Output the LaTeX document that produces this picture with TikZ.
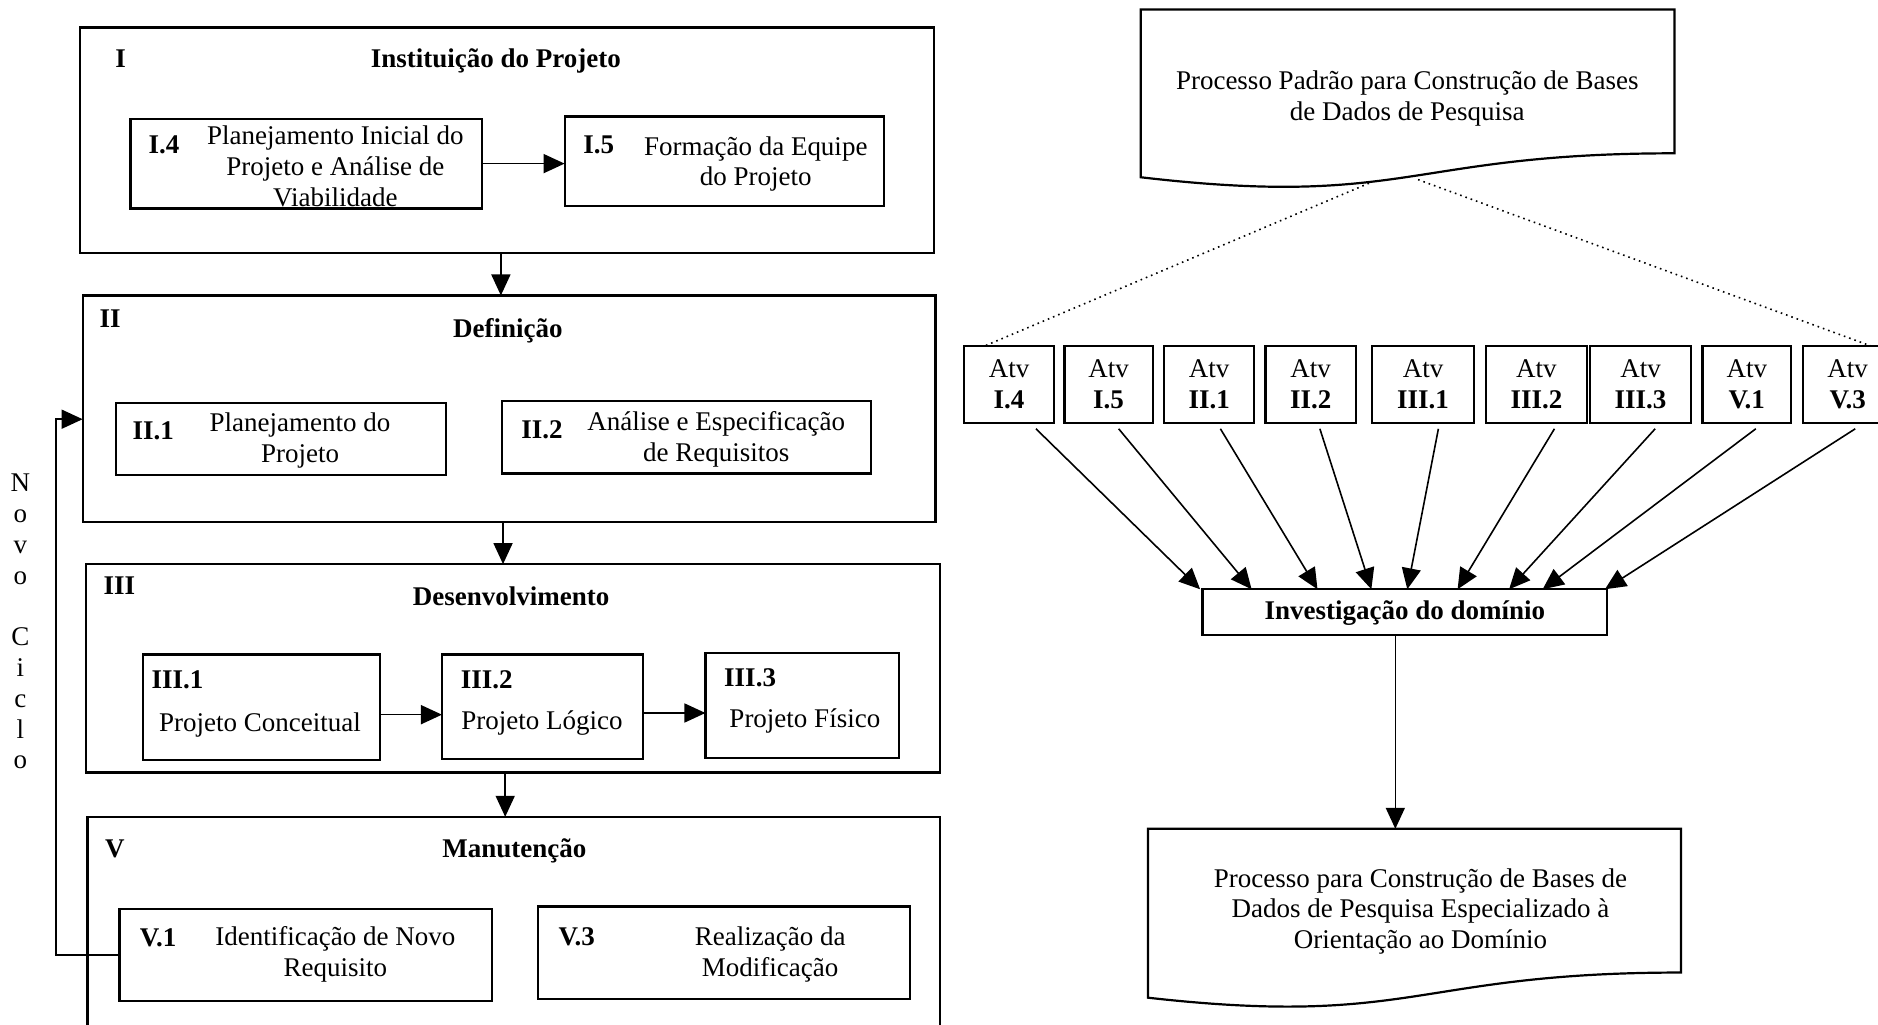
\documentclass[tikz,border=0pt]{standalone}
\usepackage{fontspec}
\setmainfont{Liberation Serif}
\usetikzlibrary{arrows.meta,calc}
\newcommand\fs{\fontsize{13.5}{15.4}\selectfont}
\newcommand\mybox[6][]{\node[boxst,#1,minimum width={(#5-#3)*0.5989pt},minimum height={(#6-#4)*0.5989pt}] (#2) at ({(#3+#5)/2},{(#4+#6)/2}) {};}
\tikzset{
  boxst/.style={draw, line width=1.1pt, inner sep=0pt, outer sep=0pt, rectangle},
  txt/.style={inner sep=0pt, align=center, font=\fs},
  lbl/.style={inner sep=0pt, font=\fs\bfseries},
  atv/.style={boxst, align=center, font=\fs},
  arr/.style={line width=0.8pt, -{Triangle[length=10.5pt,width=9.5pt]}},
  dots/.style={line width=0.8pt, dotted},
  docst/.style={line width=1.1pt},
}
\begin{document}
\begin{tikzpicture}[x=0.5989pt,y=-0.5989pt]
\useasboundingbox (0,0) rectangle (1568,855.8);
\clip (0,0) rectangle (1568,855.8);

% ---------- Phase I
\mybox{boxI}{66.5}{23}{779.7}{211}
\node[lbl] (lI) at (100.7,49) {I};
\node[lbl] (ttlI) at (414,51) {Instituição do Projeto};
\mybox{b14}{108.9}{99.2}{402.4}{174}
\node[lbl] (l14) at (137,121) {I.4};
\node[txt] (t14) at (280,139) {Planejamento Inicial do\\Projeto e Análise de\\Viabilidade};
\mybox{b15}{471.4}{97.2}{737.8}{172}
\node[lbl] (l15) at (500,121) {I.5};
\node[txt] (t15) at (631,137) {Formação da Equipe\\do Projeto};
\draw[arr] (b14.east) -- (b14.east -| b15.west);

% ---------- Phase II
\mybox{boxII}{69}{246.7}{781}{435.6}
\node[lbl] (lII) at (92,266) {II};
\node[lbl] (ttlII) at (424,276) {Definição};
\mybox{b21}{97.1}{336.6}{372.2}{396.8}
\node[lbl] (l21) at (128,360) {II.1};
\node[txt] (t21) at (250.5,368) {Planejamento do\\Projeto};
\mybox{b22}{419.2}{335}{727}{395.3}
\node[lbl] (l22) at (452.5,359) {II.2};
\node[txt] (t22) at (598,366.6) {Análise e Especificação\\de Requisitos};

% ---------- Phase III
\mybox{boxIII}{71.6}{471}{784.8}{645}
\node[lbl] (lIII) at (99.7,489) {III};
\node[lbl] (ttlIII) at (426.8,498) {Desenvolvimento};
\mybox{b31}{119.1}{546.4}{317}{634.5}
\node[lbl] (l31) at (148.3,567.4) {III.1};
\node[txt] (t31) at (217,605) {Projeto Conceitual};
\mybox{b32}{369}{546.4}{537}{633.8}
\node[lbl] (l32) at (406.5,567.4) {III.2};
\node[txt] (t32) at (452.5,603.7) {Projeto Lógico};
\mybox{b33}{589}{545}{750.6}{633}
\node[lbl] (l33) at (626.3,566) {III.3};
\node[txt] (t33) at (672,602.3) {Projeto Físico};
\coordinate (c31) at (317,596.7);
\coordinate (c32) at (537,595.3);
\draw[arr] (c31) -- (c31 -| b32.west);
\draw[arr] (c32) -- (c32 -| b33.west);

% ---------- Phase V (bottom edge falls just outside the page)
\mybox{boxV}{73}{682}{784.8}{858}
\node[lbl] (lV) at (96,708.5) {V};
\node[lbl] (ttlV) at (429.5,710) {Manutenção};
\mybox{bV1}{99.7}{758.8}{410.5}{835.6}
\node[lbl] (lV1) at (132,783) {V.1};
\node[txt] (tV1) at (280,797) {Identificação de Novo\\Requisito};
\mybox{bV3}{449}{756.9}{759.8}{834.3}
\node[lbl] (lV3) at (481.6,782) {V.3};
\node[txt] (tV3) at (643,797) {Realização da\\Modificação};

% ---------- phase arrows
\coordinate (aI) at (418.2,211);
\coordinate (aII) at (420,435.6);
\coordinate (aIII) at (421.8,645);
\draw[arr] (aI) -- (aI |- boxII.north);
\draw[arr] (aII) -- (aII |- boxIII.north);
\draw[arr] (aIII) -- (aIII |- boxV.north);

% ---------- Novo Ciclo loop
\coordinate (loopc) at (47,350);
\draw[arr] (bV1.west) -| (loopc) -- (loopc -| boxII.west);
\node[txt] (nc) at (17,519) {N\\o\\v\\o\\[15.4pt]C\\i\\c\\l\\o};

% ---------- Right: standard process document
\draw[docst] (952.5,8) -- (1398,8) -- (1398,128) .. controls (1175,128) and (1175,174) .. (952.5,148) -- cycle;
\node[txt] (doc1) at (1175,82) {Processo Padrão para Construção de Bases\\de Dados de Pesquisa};
\coordinate (d1a) at (1143,153);
\coordinate (d1b) at (1184,150);

% ---------- Atv boxes
\mybox[atv]{a14}{804.8}{289}{880.1}{353}
\mybox[atv]{a15}{888.7}{289}{962.5}{353}
\mybox[atv]{a21}{972.1}{289}{1047}{353}
\mybox[atv]{a22}{1056.6}{289}{1132}{353}
\mybox[atv]{a31}{1145.4}{289}{1230.9}{353}
\mybox[atv]{a32}{1240.7}{289}{1325}{353}
\mybox[atv]{a33}{1327.6}{289}{1411.9}{353}
\mybox[atv]{aV1}{1421.5}{289}{1495.4}{353}
\mybox[atv]{aV3}{1505.4}{289}{1580}{353}
\node[txt] (ta14) at (a14) {Atv\\\textbf{I.4}};
\node[txt] (ta15) at (a15) {Atv\\\textbf{I.5}};
\node[txt] (ta21) at (a21) {Atv\\\textbf{II.1}};
\node[txt] (ta22) at (a22) {Atv\\\textbf{II.2}};
\node[txt] (ta31) at (a31) {Atv\\\textbf{III.1}};
\node[txt] (ta32) at (a32) {Atv\\\textbf{III.2}};
\node[txt] (ta33) at (a33) {Atv\\\textbf{III.3}};
\node[txt] (taV1) at (aV1) {Atv\\\textbf{V.1}};
\node[txt] (taV3) at (1542.7,321) {Atv\\\textbf{V.3}};

\draw[dots] (d1a) -- ($(a14.north west)+(17,0)$);
\draw[dots] (d1b) -- ($(aV3.north west)+(57,0)$);

% ---------- Investigation box
\mybox{inv}{1004}{492}{1342}{530}
\node[lbl] (tinv) at (1173,512) {Investigação do domínio};

\draw[arr] ($(a14.south)+(22.5,5)$) -- ($(inv.north west)+(-2,0)$);
\draw[arr] ($(a15.south)+(8.4,5)$) -- ($(inv.north west)+(41,0)$);
\draw[arr] ($(a21.south)+(9.4,5)$) -- ($(inv.north west)+(96,0)$);
\draw[arr] ($(a22.south)+(7.7,5)$) -- ($(inv.north west)+(141,0)$);
\draw[arr] ($(a31.south)+(12.8,5)$) -- ($(inv.north west)+(171,0)$);
\draw[arr] ($(a32.south)+(15,5)$) -- ($(inv.north west)+(213,0)$);
\draw[arr] ($(a33.south)+(12.2,5)$) -- ($(inv.north west)+(256,0)$);
\draw[arr] ($(aV1.south)+(7.5,5)$) -- ($(inv.north west)+(284,0)$);
\draw[arr] ($(aV3.south)+(6.3,5)$) -- ($(inv.north west)+(336,0)$);

% ---------- Specialised process document
\draw[docst] (958.5,692) -- (1403.5,692) -- (1403.5,812) .. controls (1181,812) and (1181,858) .. (958.5,833) -- cycle;
\coordinate (d2top) at (1165,692);
\draw[arr] (inv.south -| d2top) -- (d2top);
\node[txt] (doc2) at (1186,761) {Processo para Construção de Bases de\\Dados de Pesquisa Especializado à\\Orientação ao Domínio};
\end{tikzpicture}
\end{document}
